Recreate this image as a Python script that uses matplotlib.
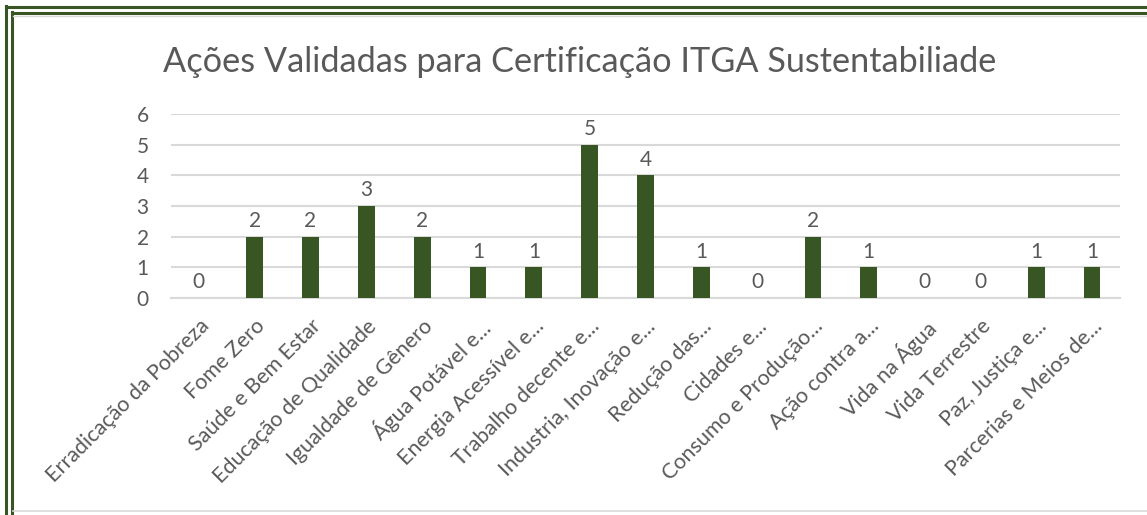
import matplotlib
matplotlib.use("Agg")
import matplotlib.pyplot as plt
from matplotlib.lines import Line2D

categories = ["Erradicação da Pobreza", "Fome Zero", "Saúde e Bem Estar",
              "Educação de Qualidade", "Igualdade de Gênero", "Água Potável e...",
              "Energia Acessível e...", "Trabalho decente e...", "Industria, Inovação e...",
              "Redução das...", "Cidades e...", "Consumo e Produção...",
              "Ação contra a...", "Vida na Água", "Vida Terrestre",
              "Paz, Justiça e...", "Parcerias e Meios de..."]
values = [0, 2, 2, 3, 2, 1, 1, 5, 4, 1, 0, 2, 1, 0, 0, 1, 1]
yticks = [0, 1, 2, 3, 4, 5, 6]
title = "Ações Validadas para Certificação ITGA Sustentabiliade"

plt.rcParams['font.family'] = ['Lato', 'DejaVu Sans']
W, H = 1147, 515
fig = plt.figure(figsize=(W / 100, H / 100), dpi=100)
green = "#375623"
text_gray = "#595959"

ax = fig.add_axes([171 / W, 1 - 298 / H, (1120 - 171) / W, (298 - 114) / H])
x = list(range(len(categories)))
bars = ax.bar(x, values, width=0.3, color=green, zorder=3)
ax.set_xlim(-0.5, len(categories) - 0.5)
ax.set_ylim(0, 6)
ax.set_yticks(yticks)
ax.set_yticklabels([str(v) for v in yticks], fontsize=15, color=text_gray)
ax.set_xticks(x)
ax.set_xticklabels(categories, rotation=45, ha="right", rotation_mode="anchor",
                   fontsize=15.5, color=text_gray)
ax.tick_params(axis="both", length=0)
ax.tick_params(axis="y", pad=16)
ax.tick_params(axis="x", pad=13)
ax.grid(axis="y", color="#d9d9d9", linewidth=1.5, zorder=0)
for s in ["top", "right", "left"]:
    ax.spines[s].set_visible(False)
ax.spines["bottom"].set_color("#d9d9d9")
ax.spines["bottom"].set_linewidth(1.5)
for xi, v in zip(x, values):
    ax.annotate(str(v), (xi, v), xytext=(0, 4), textcoords="offset points",
                ha="center", va="bottom", fontsize=15, color=text_gray)

fig.text(580 / W, 1 - 62 / H, title, ha="center", va="center",
         fontsize=24.7, color=text_gray)

# double green frame (top and left), grey bottom line
def fl(xs, ys, **kw):
    fig.add_artist(Line2D([v / W for v in xs], [1 - v / H for v in ys],
                          transform=fig.transFigure, **kw))

fl([6, 6], [6, H], color=green, linewidth=2.2)
fl([11.5, 11.5], [12, H], color=green, linewidth=2.2)
fl([6, W], [7, 7], color=green, linewidth=2.2)
fl([11.5, W], [13, 13], color=green, linewidth=2.2)
fl([13, W], [16, 16], color="#d9d9d9", linewidth=1)
fl([13, W], [511, 511], color="#d9d9d9", linewidth=1.2)

fig.savefig("out.png", dpi=100)
